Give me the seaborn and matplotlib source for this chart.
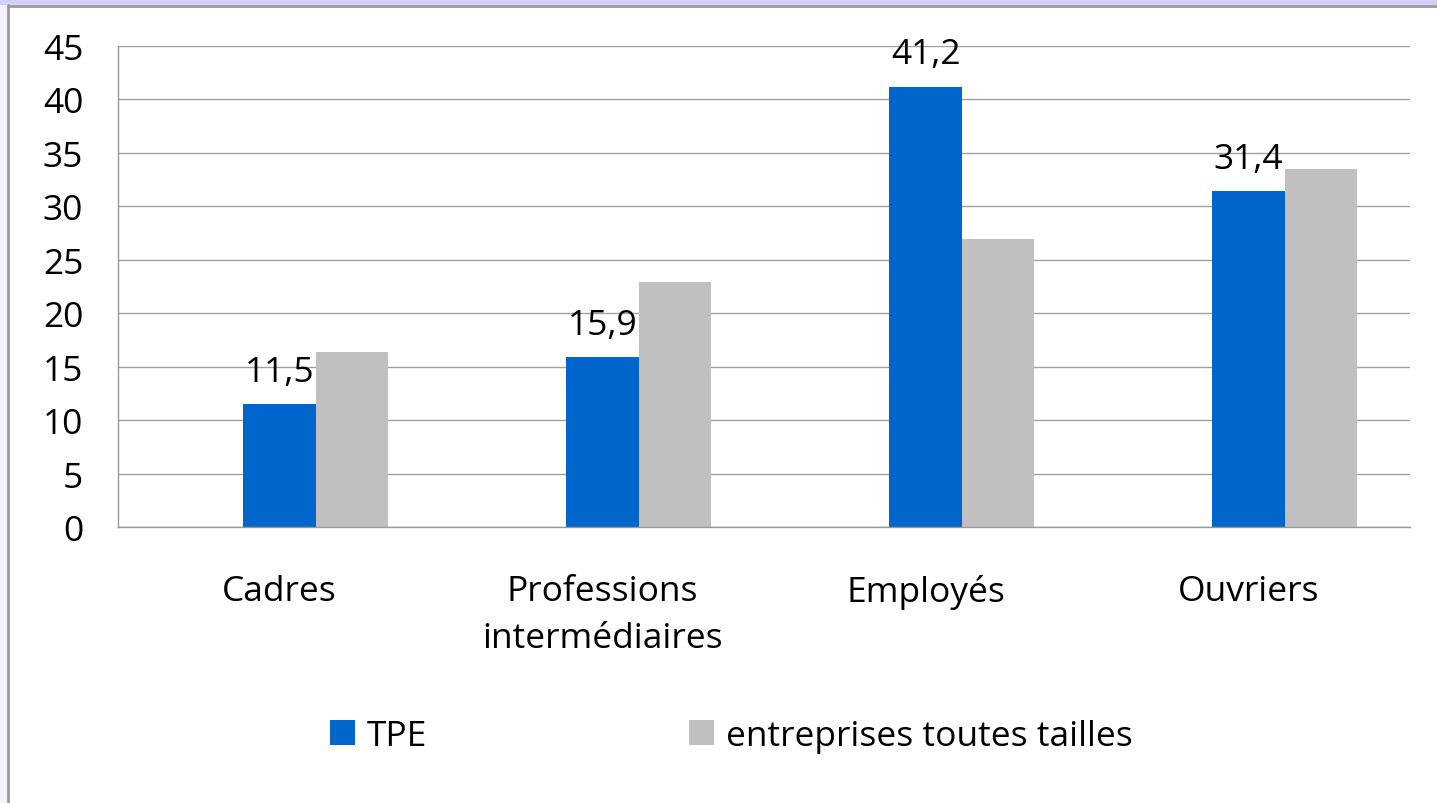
import matplotlib.pyplot as plt
import matplotlib.patches as mpatches
import matplotlib.colors as mcolors
import numpy as np
import pandas as pd
import seaborn as sns

categories = ["Cadres", "Professions\nintermédiaires", "Employés", "Ouvriers"]
series = ["TPE", "entreprises toutes tailles"]
tpe = [11.5, 15.9, 41.2, 31.4]
toutes_tailles = [16.4, 22.9, 26.9, 33.5]
y_ticks = [0, 5, 10, 15, 20, 25, 30, 35, 40, 45]

colors = {"_vide": "white", "TPE": "#0066CC", "entreprises toutes tailles": "#C0C0C0"}
FS = 25.5

df = pd.DataFrame({
    "categorie": categories * 2,
    "serie": [series[0]] * 4 + [series[1]] * 4,
    "valeur": tpe + toutes_tailles,
})

sns.set_style("white")
plt.rcParams['font.family'] = ['Open Sans', 'DejaVu Sans']
plt.rcParams['text.color'] = 'black'
plt.rcParams['xtick.color'] = 'black'
plt.rcParams['ytick.color'] = 'black'

fig = plt.figure(figsize=(14.37, 8.04), dpi=100)
fig.patch.set_facecolor('white')
# frame around the chart (lavender band + grey edge)
fig.patches.append(mpatches.Rectangle((0, 1 - 6 / 804), 1, 6 / 804, transform=fig.transFigure,
                                      facecolor='#D0D0FA', edgecolor='none', zorder=0))
fig.patches.append(mpatches.Rectangle((0, 0), 7 / 1437, 1 - 6 / 804, transform=fig.transFigure,
                                      facecolor='#F3F3FF', edgecolor='none', zorder=0))
fig.lines.append(plt.Line2D([7.5 / 1437, 7.5 / 1437], [0, 1 - 6 / 804], transform=fig.transFigure,
                            color='#999999', lw=2))
fig.lines.append(plt.Line2D([7.5 / 1437, 1], [1 - 7 / 804, 1 - 7 / 804], transform=fig.transFigure,
                            color='#999999', lw=2))

ax = fig.add_axes([118 / 1437, 1 - 528 / 804, (1410 - 118) / 1437, (528 - 47) / 804])
# empty first series to mimic the spreadsheet layout (3 slots per group)
sns.barplot(data=df, x="categorie", y="valeur", hue="serie",
            hue_order=["_vide"] + series, palette=colors, order=categories,
            width=0.669, saturation=1, linewidth=0, legend=False, errorbar=None, ax=ax)

ax.set_ylim(0, 45)
ax.set_xlim(-0.5, 3.5)
ax.set_yticks(y_ticks)
ax.set_xticks(range(len(categories)))
ax.set_xticklabels(categories, linespacing=1.5)
ax.set_xticks(np.arange(-0.5, 4, 1), minor=True)
ax.tick_params(axis='x', which='major', length=0, pad=34, labelsize=FS)
ax.tick_params(axis='x', which='minor', length=9, width=1, color='#999999', direction='out')
ax.tick_params(axis='y', length=9, width=1, color='#999999', direction='out', pad=16, labelsize=FS)
ax.set_xlabel("")
ax.set_ylabel("")
ax.grid(axis='y', color='#A0A0A0', lw=1)
ax.set_axisbelow(True)
for side in ['top', 'right']:
    ax.spines[side].set_visible(False)
for side in ['left', 'bottom']:
    ax.spines[side].set_color('#999999')
    ax.spines[side].set_linewidth(1)

# find the TPE bars (blue)
tpe_bars = None
for c in ax.containers:
    bars = [b for b in c if b is not None]
    if bars and mcolors.to_hex(bars[0].get_facecolor()).lower() == colors["TPE"].lower():
        tpe_bars = bars
for bar, v in zip(sorted(tpe_bars, key=lambda b: b.get_x()), tpe):
    ax.annotate(f"{v:.1f}".replace('.', ','), (bar.get_x() + bar.get_width() / 2, bar.get_height()),
                xytext=(0, 11), textcoords='offset points', ha='center', va='bottom', fontsize=FS)

handles = [mpatches.Patch(facecolor=colors[s], edgecolor='none') for s in series]
fig.legend(handles, series, loc='center', bbox_to_anchor=(731 / 1437, 67 / 804), ncol=2,
           frameon=False, fontsize=FS, handlelength=0.71, handleheight=0.71,
           handletextpad=0.33, columnspacing=7.4)

plt.savefig('out.png', dpi=100)
